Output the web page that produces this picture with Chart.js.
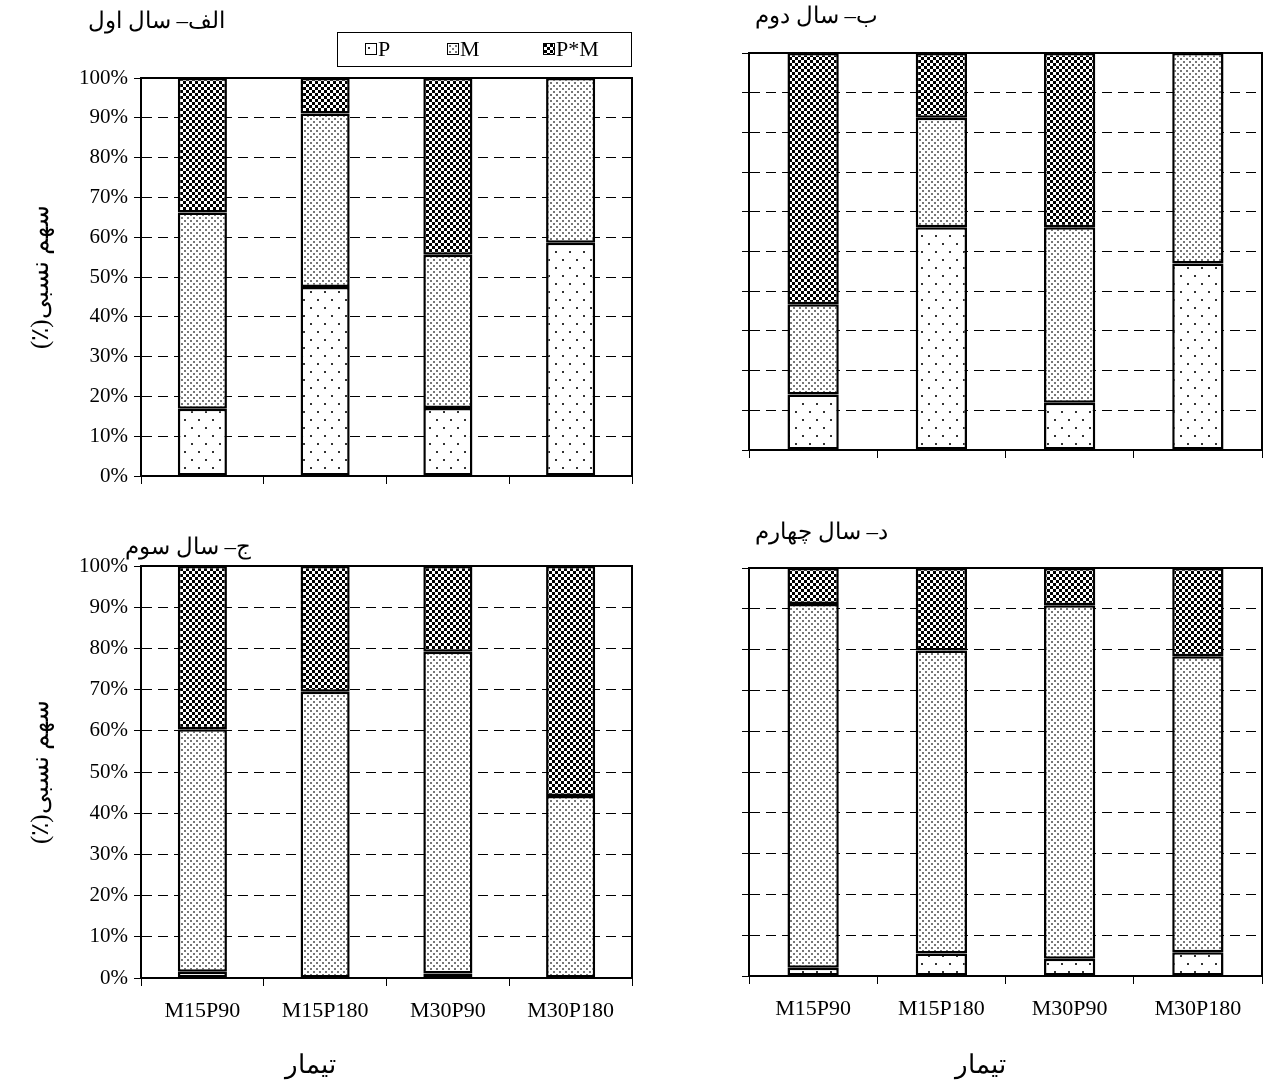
<!DOCTYPE html>
<html lang="fa">
<head>
<meta charset="utf-8">
<script src="https://cdn.jsdelivr.net/npm/chart.js@4.4.1/dist/chart.umd.min.js"></script>
<style>
  html, body { margin: 0; padding: 0; background: #fff; }
  body { width: 1263px; height: 1081px; position: relative; overflow: hidden;
         font-family: "Liberation Serif", "DejaVu Serif", serif; color: #000; }
  .box { position: absolute; }
  .box canvas { display: block; }
  .lbl { position: absolute; white-space: nowrap; font-size: 23px; line-height: 1; }
  .xt { font-size: 26px; }
  .legend { position: absolute; left: 337px; top: 32px; width: 295px; height: 35px;
            border: 1px solid #000; box-sizing: border-box; font-size: 22px; }
  .legend span { position: absolute; top: 5px; display: flex; align-items: center; line-height: 1; }
  .legend canvas { width: 10px; height: 10px; border: 1px solid #000; margin-right: 1px; }
</style>
</head>
<body>
<div class="box" style="left:0;top:0"><canvas id="chartA" width="640" height="500"></canvas></div>
<div class="box" style="left:660px;top:0"><canvas id="chartB" width="603" height="480"></canvas></div>
<div class="box" style="left:0;top:520px"><canvas id="chartC" width="640" height="561"></canvas></div>
<div class="box" style="left:660px;top:520px"><canvas id="chartD" width="603" height="561"></canvas></div>

<div class="lbl" dir="rtl" style="left:88px;top:9px">الف– سال اول</div>
<div class="lbl" dir="rtl" style="left:755px;top:4px">ب– سال دوم</div>
<div class="lbl" dir="rtl" style="left:125px;top:535px">ج– سال سوم</div>
<div class="lbl" dir="rtl" style="left:755px;top:520px">د– سال چهارم</div>
<div class="lbl xt" dir="rtl" style="left:285px;top:1052px">تیمار</div>
<div class="lbl xt" dir="rtl" style="left:955px;top:1052px">تیمار</div>

<div class="legend">
  <span style="left:27px"><canvas id="swP" width="10" height="10"></canvas>P</span>
  <span style="left:109px"><canvas id="swM" width="10" height="10"></canvas>M</span>
  <span style="left:205px"><canvas id="swPM" width="10" height="10"></canvas>P*M</span>
</div>

<script>
const categories = ['M15P90', 'M15P180', 'M30P90', 'M30P180'];
const seriesNames = ['P', 'M', 'P*M'];

// سهم نسبی (%) هر سال: سال اول تا چهارم
const pShare = [
  [16.9, 47.5, 17.1, 58.6],
  [14.0, 56.1, 11.9, 47.0],
  [1.5, 0, 1.1, 0],
  [2.0, 5.5, 4.2, 5.8],
];
const mShare = [
  [49.3, 43.6, 38.5, 41.4],
  [22.7, 27.6, 44.2, 53.0],
  [58.9, 69.5, 78.1, 44.2],
  [89.2, 74.3, 86.7, 72.6],
];
const pmShare = [
  [33.8, 8.9, 44.4, 0],
  [63.3, 16.3, 43.9, 0],
  [39.6, 30.5, 20.8, 55.8],
  [8.8, 20.2, 9.1, 21.6],
];

const FONT = '"Liberation Serif", "DejaVu Serif", serif';

// هاشورها
function makeTile(w, h, draw) {
  const c = document.createElement('canvas');
  c.width = w; c.height = h;
  const g = c.getContext('2d');
  g.fillStyle = '#fff';
  g.fillRect(0, 0, w, h);
  draw(g);
  return c;
}
const tileP = makeTile(14, 16, g => {
  g.fillStyle = '#333';
  g.fillRect(2, 3, 2, 2);
  g.fillRect(9, 11, 2, 2);
});
const tileM = makeTile(6, 6, g => {
  g.fillStyle = '#777';
  g.fillRect(1, 1, 2, 2);
  g.fillRect(4, 4, 2, 2);
});
const tilePM = makeTile(6, 6, g => {
  g.fillStyle = '#000';
  g.fillRect(0, 0, 3, 3);
  g.fillRect(3, 3, 3, 3);
});

function patterns(ctx) {
  return [tileP, tileM, tilePM].map(t => ctx.createPattern(t, 'repeat'));
}

// قاب دور ناحیه نمودار
const framePlugin = {
  id: 'frame',
  afterDatasetsDraw(chart) {
    const { ctx, chartArea: { left, top, right, bottom } } = chart;
    ctx.save();
    ctx.strokeStyle = '#000';
    ctx.lineWidth = 2;
    ctx.strokeRect(left, top, right - left, bottom - top);
    ctx.restore();
  },
};

const panels = [
  { canvas: 'chartA', padTop: 78, padRight: 8, yW: 141, xH: 24, yLabels: true,  xLabels: false },
  { canvas: 'chartB', padTop: 53, padRight: 1, yW: 89,  xH: 30, yLabels: false, xLabels: false },
  { canvas: 'chartC', padTop: 46, padRight: 8, yW: 141, xH: 103, yLabels: true, xLabels: true },
  { canvas: 'chartD', padTop: 48, padRight: 1, yW: 89,  xH: 105, yLabels: false, xLabels: true },
];

panels.forEach((p, i) => {
  const el = document.getElementById(p.canvas);
  const pats = patterns(el.getContext('2d'));
  const values = [pShare[i], mShare[i], pmShare[i]];

  new Chart(el, {
    type: 'bar',
    data: {
      labels: categories,
      datasets: seriesNames.map((name, k) => ({
        label: name,
        data: values[k],
        backgroundColor: pats[k],
        borderColor: '#000',
        borderWidth: c => (c.raw === 0 ? 0 : 2.5),
        borderSkipped: false,
        inflateAmount: 0,
        barPercentage: 0.4,
        categoryPercentage: 1,
      })),
    },
    options: {
      responsive: false,
      animation: false,
      layout: { padding: { top: p.padTop, right: p.padRight, left: 0, bottom: 0 } },
      plugins: { legend: { display: false }, tooltip: { enabled: false } },
      scales: {
        x: {
          stacked: true,
          grid: { offset: true, drawOnChartArea: false, drawTicks: true, tickLength: 8, color: '#000' },
          border: { display: true, color: '#000', width: 2 },
          ticks: { display: p.xLabels, color: '#000', padding: 12, font: { family: FONT, size: 22 } },
          afterFit: s => { s.height = p.xH; },
        },
        y: {
          stacked: true,
          min: 0,
          max: 100,
          grid: { color: '#000', lineWidth: 1, tickLength: 7 },
          border: { display: true, color: '#000', width: 2, dash: [10, 6] },
          ticks: {
            display: p.yLabels,
            stepSize: 10,
            color: '#000',
            padding: 6,
            font: { family: FONT, size: 21 },
            callback: v => v + '%',
          },
          title: {
            display: p.yLabels,
            // RLM برای راست‌به‌چپ ماندن پرانتز
            text: 'سهم نسبی(٪)\u200F',
            color: '#000',
            padding: { top: 26, bottom: 0 },
            font: { family: FONT, size: 25 },
          },
          afterFit: s => { s.width = p.yW; },
        },
      },
    },
    plugins: [framePlugin],
  });
});

// نمونه‌های راهنما
const swatchPats = patterns(document.getElementById('swP').getContext('2d'));
['swP', 'swM', 'swPM'].forEach((id, k) => {
  const g = document.getElementById(id).getContext('2d');
  g.fillStyle = swatchPats[k];
  g.fillRect(0, 0, 10, 10);
});
</script>
</body>
</html>
